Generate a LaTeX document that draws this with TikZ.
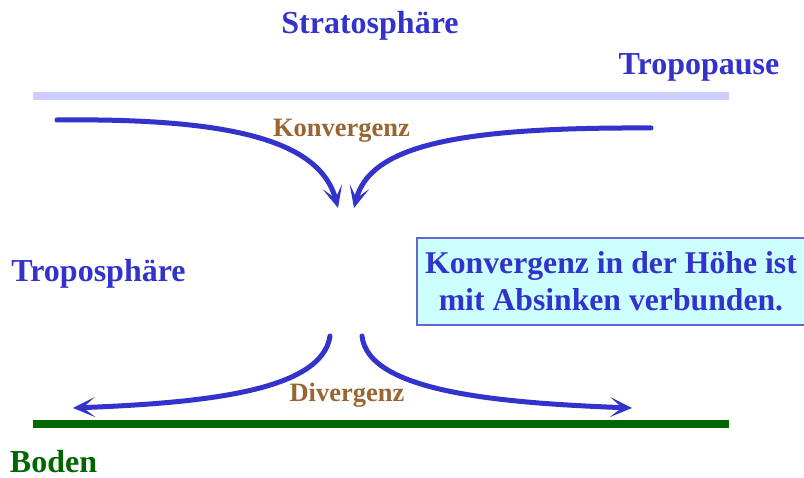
\documentclass[tikz,border=0pt]{standalone}
\usepackage{fontspec}
\setmainfont{Liberation Serif}
\usetikzlibrary{arrows.meta}
\definecolor{myblue}{RGB}{51,51,204}
\definecolor{mybrown}{RGB}{153,102,51}
\definecolor{lav}{RGB}{204,204,255}
\definecolor{dgreen}{RGB}{0,102,0}
\definecolor{boxfill}{RGB}{204,255,255}
\definecolor{boxdraw}{RGB}{102,102,204}
\tikzset{
  big/.style={font=\fontsize{32}{37}\selectfont\bfseries, text=myblue, inner sep=0pt, anchor=base},
  small/.style={font=\fontsize{26.5}{30}\selectfont\bfseries, text=mybrown, inner sep=0pt, anchor=base},
  flow/.style={draw=myblue, line width=5pt, line cap=round, -{Stealth[length=22pt,width=20pt,inset=12pt]}}
}
\begin{document}
\begin{tikzpicture}[x=1pt,y=-1pt]
\useasboundingbox (0,0) rectangle (804,478);
\node[big] (strat) at (370,34) {Stratosphäre};
\node[big] (tpause) at (699,75) {Tropopause};
\node[big] (tsphere) at (98.5,282) {Troposphäre};
\node[big, text=dgreen, text depth=0pt] (boden) at (53.5,473) {Boden};
\node[small] (konv) at (341.5,137) {Konvergenz};
\node[small] (div) at (347,402) {Divergenz};
\coordinate (tl1) at (33,96.5);
\coordinate (tl2) at (729,96.5);
\draw[lav, line width=8pt] (tl1) -- (tl2);
\coordinate (bl1) at (33,424);
\coordinate (bl2) at (729,424);
\draw[dgreen, line width=8pt] (bl1) -- (bl2);
\node[draw=boxdraw, line width=2pt, fill=boxfill, minimum width=388pt, minimum height=87pt, anchor=north west, inner sep=0pt] (box) at (416,237) {};
\node[big, anchor=center, align=center, font=\fontsize{31.7}{37}\selectfont\bfseries] (boxtext) at (box.center) {Konvergenz in der Höhe ist\\mit Absinken verbunden.};
\coordinate (a1s) at (57,120);
\coordinate (a1e) at (338,208);
\coordinate (a2s) at (651,128);
\coordinate (a2e) at (354,208);
\coordinate (a3s) at (330,336);
\coordinate (a3e) at (73,408);
\coordinate (a4s) at (362,336);
\coordinate (a4e) at (632,408);
\draw[flow] (a1s) .. controls (230,118) and (320,140) .. (a1e);
\draw[flow] (a2s) .. controls (460,127) and (370,145) .. (a2e);
\draw[flow] (a3s) .. controls (322,392) and (200,403) .. (a3e);
\draw[flow] (a4s) .. controls (368,392) and (500,403) .. (a4e);
\end{tikzpicture}
\end{document}
